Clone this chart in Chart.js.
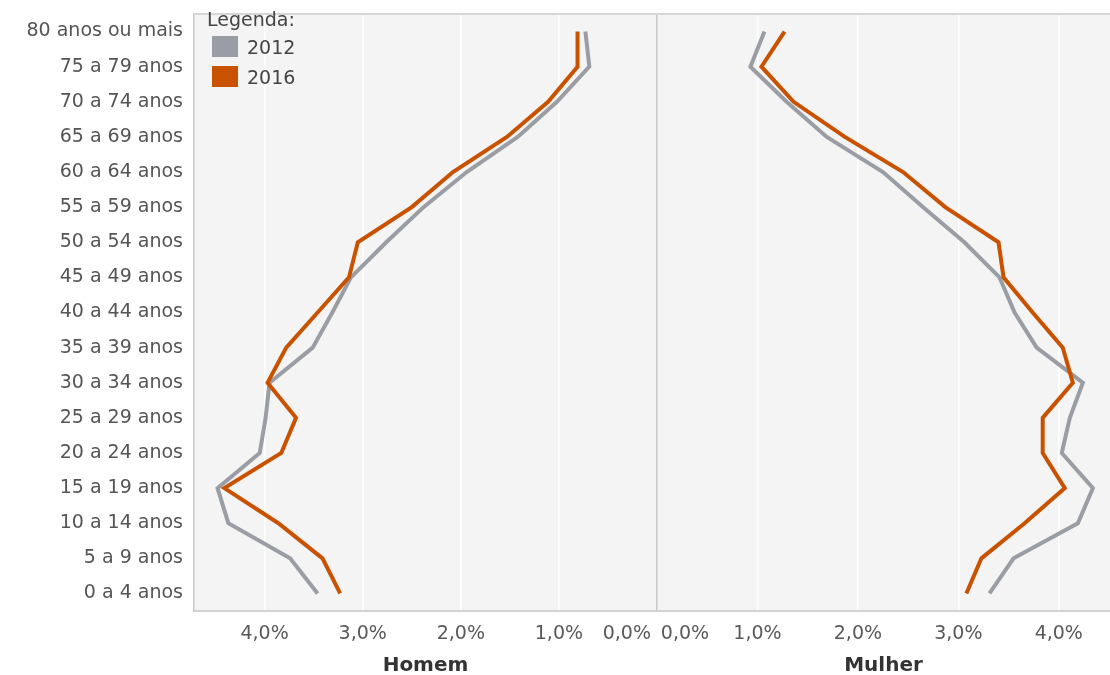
<!DOCTYPE html>
<html lang="pt">
<head>
<meta charset="utf-8">
<title>Pirâmide etária 2012 x 2016</title>
<script src="https://cdn.jsdelivr.net/npm/chart.js@4/dist/chart.umd.min.js"></script>
<style>
  body { margin: 0; background: #fff; font-family: "DejaVu Sans", sans-serif; }
  #wrap { position: relative; width: 1110px; height: 675px; overflow: hidden; }
  #boxHomem { position: absolute; left: 0; top: 0; width: 657px; height: 675px; }
  #boxMulher { position: absolute; left: 657px; top: 0; width: 453px; height: 675px; }
  .leg { position: absolute; font-size: 19px; line-height: 19px; color: #444; white-space: nowrap; }
  .quad { position: absolute; left: 212px; width: 26px; height: 21px; }
</style>
</head>
<body>
<div id="wrap">
  <div id="boxHomem"><canvas id="chartHomem"></canvas></div>
  <div id="boxMulher"><canvas id="chartMulher"></canvas></div>
  <!-- legenda no canto de cima -->
  <div class="leg" style="left:207px; top:10px;">Legenda:</div>
  <div class="quad" id="q2012" style="top:36px;"></div>
  <div class="leg" id="t2012" style="left:247px; top:38px;"></div>
  <div class="quad" id="q2016" style="top:66px;"></div>
  <div class="leg" id="t2016" style="left:247px; top:68px;"></div>
</div>
<script>
// Faixas etárias (de cima para baixo) e percentuais
const faixas = ['80 anos ou mais', '75 a 79 anos', '70 a 74 anos', '65 a 69 anos', '60 a 64 anos',
  '55 a 59 anos', '50 a 54 anos', '45 a 49 anos', '40 a 44 anos', '35 a 39 anos', '30 a 34 anos',
  '25 a 29 anos', '20 a 24 anos', '15 a 19 anos', '10 a 14 anos', '5 a 9 anos', '0 a 4 anos'];
const anos = ['2012', '2016'];

const homem2012 = [0.73, 0.69, 1.02, 1.42, 1.94, 2.38, 2.76, 3.12, 3.31, 3.51, 3.95, 3.99, 4.05, 4.48, 4.37, 3.74, 3.46];
const homem2016 = [0.81, 0.81, 1.11, 1.53, 2.08, 2.50, 3.05, 3.14, 3.46, 3.78, 3.97, 3.68, 3.83, 4.41, 3.86, 3.41, 3.23];
const mulher2012 = [1.07, 0.93, 1.29, 1.69, 2.25, 2.65, 3.06, 3.41, 3.56, 3.78, 4.24, 4.11, 4.03, 4.34, 4.19, 3.55, 3.31];
const mulher2016 = [1.27, 1.04, 1.36, 1.87, 2.45, 2.87, 3.40, 3.45, 3.74, 4.04, 4.14, 3.84, 3.84, 4.06, 3.66, 3.23, 3.08];

const tickValues = [0, 1, 2, 3, 4];

const cinza = '#9a9ea4';
const laranja = '#c85200';
const fonte = '"DejaVu Sans", sans-serif';

// legenda
document.getElementById('q2012').style.background = cinza;
document.getElementById('q2016').style.background = laranja;
document.getElementById('t2012').textContent = anos[0];
document.getElementById('t2016').textContent = anos[1];

function fmtPct(v) {
    return v.toFixed(1).replace('.', ',') + '%';
}

// fundo cinza claro + linha de cima da área do gráfico
const fundoPlugin = {
    id: 'fundo',
    beforeDraw(chart) {
        const a = chart.chartArea, ctx = chart.ctx;
        ctx.save();
        ctx.fillStyle = '#f4f4f4';
        ctx.fillRect(a.left, a.top, a.right - a.left, a.bottom - a.top);
        ctx.restore();
    },
    afterDraw(chart) {
        const a = chart.chartArea, ctx = chart.ctx;
        ctx.save();
        ctx.strokeStyle = '#d6d6d6';
        ctx.lineWidth = 2;
        ctx.beginPath();
        ctx.moveTo(a.left, a.top);
        ctx.lineTo(a.right, a.top);
        ctx.stroke();
        ctx.restore();
    }
};

function corGrade(c) {
    const v = c.tick ? c.tick.value : null;
    if (v === 0) return '#c8c8c8';
    if (tickValues.includes(v)) return '#ffffff';
    return 'rgba(0,0,0,0)';
}

function opcoes(titulo, maximo, invertido, comEixoY) {
    return {
        indexAxis: 'y',
        responsive: true,
        maintainAspectRatio: false,
        animation: false,
        layout: { padding: { top: 14, left: 0, right: 0, bottom: 0 } },
        plugins: { legend: { display: false }, tooltip: { enabled: false } },
        elements: { point: { radius: 0 }, line: { borderWidth: 4, tension: 0 } },
        scales: {
            x: {
                type: 'linear',
                reverse: invertido,
                min: 0,
                max: maximo,
                afterBuildTicks: s => { s.ticks = tickValues.concat([maximo]).map(v => ({ value: v })); },
                afterFit: s => { s.height = 64; s.paddingLeft = 0; s.paddingRight = 0; },
                ticks: {
                    align: 'inner',
                    autoSkip: false,
                    maxRotation: 0,
                    padding: 12,
                    color: '#595959',
                    font: { family: fonte, size: 19 },
                    // o 0,0% fica um pouco afastado da divisória do meio
                    callback: v => {
                        if (!tickValues.includes(v)) return '';
                        if (v === 0) return invertido ? fmtPct(v) + ' ' : '\u2009' + fmtPct(v);
                        return fmtPct(v);
                    }
                },
                grid: { drawTicks: false, lineWidth: 1.5, color: corGrade },
                border: { color: '#d3d3d3', width: 2 },
                title: {
                    display: true,
                    text: titulo,
                    color: '#333',
                    font: { family: fonte, size: 20, weight: 'bold' },
                    padding: { top: 0, bottom: -3 }
                }
            },
            y: {
                type: 'category',
                offset: true,
                display: comEixoY,
                afterFit: s => { s.width = comEixoY ? 194 : 0; s.paddingTop = 0; s.paddingBottom = 0; },
                grid: { display: false, drawTicks: false },
                border: { display: true, color: '#c8c8c8', width: 1.5 },
                ticks: { padding: 11, color: '#555', font: { family: fonte, size: 19 } }
            }
        }
    };
}

new Chart(document.getElementById('chartHomem'), {
    type: 'line',
    data: {
        labels: faixas,
        datasets: [
            { label: anos[0], data: homem2012, borderColor: cinza, order: 2 },
            { label: anos[1], data: homem2016, borderColor: laranja, order: 1 }
        ]
    },
    options: opcoes('Homem', 4.72, true, true),
    plugins: [fundoPlugin]
});

new Chart(document.getElementById('chartMulher'), {
    type: 'line',
    data: {
        labels: faixas,
        datasets: [
            { label: anos[0], data: mulher2012, borderColor: cinza, order: 2 },
            { label: anos[1], data: mulher2016, borderColor: laranja, order: 1 }
        ]
    },
    options: opcoes('Mulher', 4.51, false, false),
    plugins: [fundoPlugin]
});
</script>
</body>
</html>
